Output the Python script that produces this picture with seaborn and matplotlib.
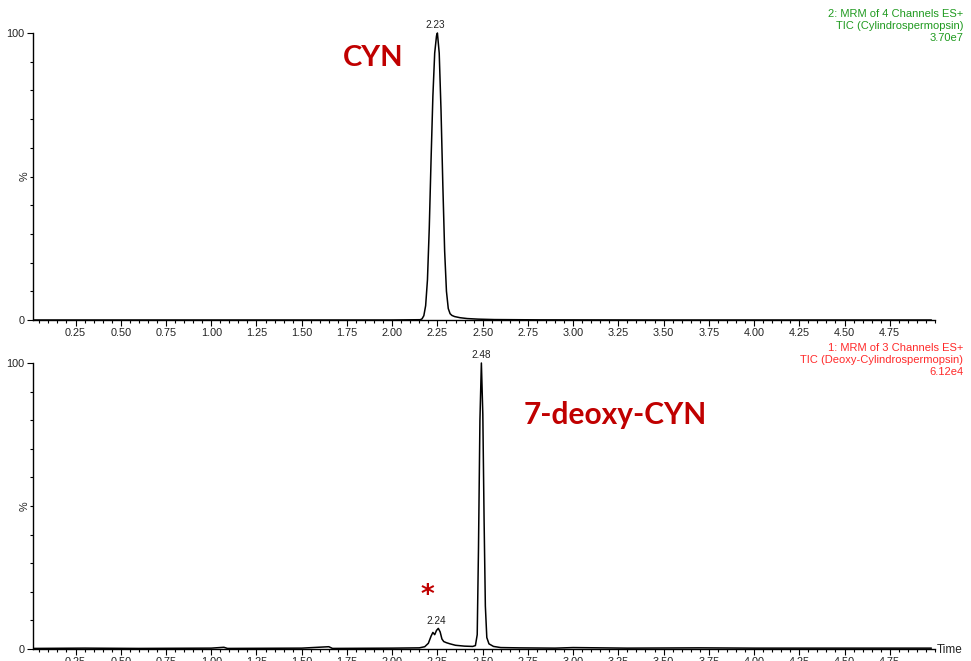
import numpy as np
import pandas as pd
import seaborn as sns
import matplotlib.pyplot as plt
from matplotlib.ticker import MultipleLocator, FixedLocator

# chromatogram traces (time in min, relative intensity in %)
cyn_time = [0.02, 0.50, 1.00, 1.50, 2.00, 2.155, 2.165, 2.175, 2.185, 2.195, 2.205, 2.215,
            2.225, 2.235, 2.245, 2.25, 2.26, 2.27, 2.28, 2.29, 2.30, 2.31,
            2.32, 2.33, 2.345, 2.375, 2.415, 2.475, 2.565, 2.815, 3.50, 4.98]
cyn_pct = [0.0, 0.0, 0.0, 0.0, 0.0, 0.1, 0.4, 1.5, 5.0, 14.0, 32.0, 56.0,
           78.0, 93.0, 99.0, 100.0, 93.0, 73.0, 47.0, 24.0, 10.0, 4.0,
           2.2, 1.6, 1.2, 0.8, 0.5, 0.3, 0.15, 0.05, 0.0, 0.0]

deoxy_time = [0.02, 0.30, 0.60, 1.00, 1.07, 1.09, 1.50, 1.65, 1.67, 2.00, 2.15,
              2.18, 2.20, 2.215, 2.225, 2.235, 2.245, 2.255, 2.265, 2.275, 2.285,
              2.30, 2.32, 2.35, 2.40, 2.445, 2.46, 2.47, 2.477, 2.485, 2.493,
              2.501, 2.508, 2.515, 2.523, 2.535, 2.56, 2.60, 2.70, 2.90, 3.00,
              3.30, 3.70, 4.00, 4.50, 4.98]
deoxy_pct = [0.2, 0.3, 0.2, 0.3, 0.6, 0.2, 0.3, 0.8, 0.2, 0.3, 0.4,
             0.8, 2.0, 4.5, 5.8, 5.0, 6.5, 7.2, 6.0, 3.5, 2.6,
             2.2, 1.8, 1.3, 1.0, 0.9, 1.2, 5.0, 35.0, 80.0, 100.0,
             82.0, 45.0, 15.0, 4.0, 1.8, 0.9, 0.5, 0.4, 0.3, 0.5,
             0.3, 0.4, 0.3, 0.3, 0.3]

apex_labels = ["2.23", "2.48"]
minor_label = "2.24"
headers = [["2: MRM of 4 Channels ES+", "TIC (Cylindrospermopsin)", "3.70e7"],
           ["1: MRM of 3 Channels ES+", "TIC (Deoxy-Cylindrospermopsin)", "6.12e4"]]
names = ["CYN", "7-deoxy-CYN"]

sns.set_theme(style="ticks")
plt.rcParams['font.family'] = ['Liberation Sans', 'DejaVu Sans']

W, H = 971, 661
fig = plt.figure(figsize=(W / 100, H / 100), dpi=100)


def px_axes(left, top, right, bottom):
    return fig.add_axes([left / W, 1 - bottom / H, (right - left) / W, (bottom - top) / H])


def fig_text(x, y, s, **kw):
    fig.text(x / W, 1 - y / H, s, **kw)


def style_axis(ax):
    ax.set_xlim(0.015, 5.0)
    ax.set_ylim(0, 100)
    sns.despine(ax=ax)
    ax.xaxis.set_major_locator(FixedLocator(np.arange(0.25, 4.8, 0.25)))
    ax.xaxis.set_minor_locator(MultipleLocator(0.05))
    ax.set_xticklabels([f"{v:.2f}" for v in np.arange(0.25, 4.8, 0.25)])
    ax.yaxis.set_major_locator(FixedLocator([0, 100]))
    ax.yaxis.set_minor_locator(MultipleLocator(10))
    ax.tick_params(axis="both", which="major", length=4, width=0.8, labelsize=7.8,
                   pad=2, color="black", labelcolor="#222222")
    ax.tick_params(axis="both", which="minor", length=2.5, width=0.8, color="black")
    for s in ("left", "bottom"):
        ax.spines[s].set_linewidth(1.0)
        ax.spines[s].set_color("black")
    ax.set_xlabel("")
    ax.set_ylabel("")


ax1 = px_axes(33, 33, 935, 320)
ax2 = px_axes(33, 363, 935, 649)

df1 = pd.DataFrame({"time": cyn_time, "pct": cyn_pct})
df2 = pd.DataFrame({"time": deoxy_time, "pct": deoxy_pct})
sns.lineplot(data=df1, x="time", y="pct", ax=ax1, color="black", lw=1.1, clip_on=False)
sns.lineplot(data=df2, x="time", y="pct", ax=ax2, color="black", lw=1.1, clip_on=False)
style_axis(ax1)
style_axis(ax2)

# y-axis "%" labels
fig_text(25, 176, "%", ha="center", va="center", rotation=90, fontsize=7.8, color="#222222")
fig_text(25, 506, "%", ha="center", va="center", rotation=90, fontsize=7.8, color="#222222")

# apex labels
i1 = int(np.argmax(cyn_pct))
ax1.text(cyn_time[i1] - 0.01, cyn_pct[i1] + 1, apex_labels[0], ha="center", va="bottom",
         fontsize=7.2, color="#222222", clip_on=False)
i2 = int(np.argmax(deoxy_pct))
ax2.text(deoxy_time[i2], deoxy_pct[i2] + 1, apex_labels[1], ha="center", va="bottom",
         fontsize=7.2, color="#222222", clip_on=False)
i3 = int(np.argmax(deoxy_pct[:20]))
ax2.text(deoxy_time[i3] - 0.01, deoxy_pct[i3] + 1, minor_label, ha="center", va="bottom",
         fontsize=7.2, color="#222222")

# channel headers
for y0, lines, col in [(14, headers[0], "#1f9a1f"), (348, headers[1], "#ff2a2a")]:
    for k, line in enumerate(lines):
        fig_text(963, y0 + k * 12, line, ha="right", va="center", fontsize=8, color=col)

fig_text(937, 650, "Time", ha="left", va="center", fontsize=8.5, color="#222222")

# compound names
red = "#c00000"
fig_text(373, 58, names[0], ha="center", va="center", fontsize=21, fontweight="bold",
         color=red, family=["Lato", "DejaVu Sans"])
fig_text(615, 415, names[1], ha="center", va="center", fontsize=21.5, fontweight="bold",
         color=red, family=["Lato", "DejaVu Sans"])
fig_text(427, 596, "*", ha="center", va="center", fontsize=19, fontweight="bold",
         color=red, family=["DejaVu Sans"])

fig.savefig("out.png", dpi=100)
